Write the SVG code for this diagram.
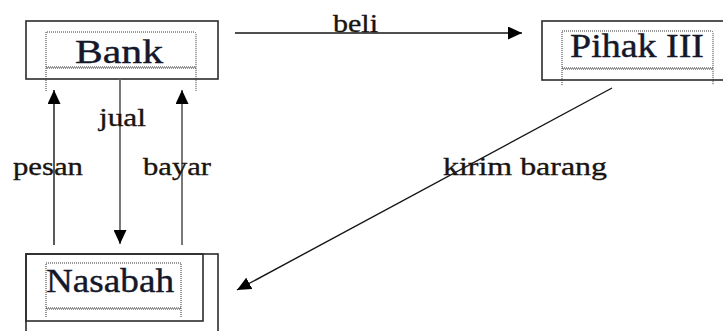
<svg xmlns="http://www.w3.org/2000/svg" width="723" height="331" viewBox="0 0 723 331">
  <style>
    .box { fill: none; stroke: #2b2b2b; stroke-width: 1.6; }
    .dot { fill: none; stroke: #333; stroke-width: 1; stroke-dasharray: 1 1; }
    .name { font-family: "Liberation Serif", "Times New Roman", serif; font-size: 34px; fill: #14182a; stroke: #14182a; stroke-width: 0.4; }
    .lbl { font-family: "Liberation Serif", "Times New Roman", serif; font-size: 26px; fill: #1a1410; stroke: #1a1410; stroke-width: 0.35; }
    .arrow { fill: none; stroke: #151515; stroke-width: 1.4; marker-end: url(#head); }
    .arrow.soft { stroke: #6a6a6a; stroke-width: 1.8; }
  </style>
  <defs>
    <marker id="head" markerUnits="userSpaceOnUse" viewBox="0 0 14 13" refX="14" refY="6.5" markerWidth="14" markerHeight="13" orient="auto">
      <path d="M0,0 L14,6.5 L0,13 z" fill="#000"/>
    </marker>
  </defs>
  <rect width="723" height="331" fill="#fff"/>

  <!-- Bank -->
  <g id="bank">
    <rect class="box" x="26" y="21" width="192" height="58"/>
    <path class="dot" d="M46,91 V32 H194 Q196,32 196,34 V91"/>
    <path class="dot" d="M46,67 H196"/>
    <path class="dot" d="M47,68 H196"/>
    <text class="name" x="75" y="63" textLength="88" lengthAdjust="spacingAndGlyphs">Bank</text>
  </g>

  <!-- Pihak III -->
  <g id="pihak3">
    <rect class="box" x="542" y="21" width="200" height="59"/>
    <path class="dot" d="M562,85 V31 H711 Q713,31 713,33 V85"/>
    <path class="dot" d="M562,68 H713"/>
    <path class="dot" d="M563,69 H713"/>
    <text class="name" x="570" y="57" textLength="134" lengthAdjust="spacingAndGlyphs">Pihak III</text>
  </g>

  <!-- Nasabah -->
  <g id="nasabah">
    <rect class="box" x="26" y="254" width="192" height="100"/>
    <rect class="box" x="26" y="254" width="177" height="67"/>
    <path class="dot" d="M46,317 V263 H181 V317"/>
    <path class="dot" d="M46,308 H181"/>
    <path class="dot" d="M47,309 H181"/>
    <text class="name" x="46" y="292" textLength="128" lengthAdjust="spacingAndGlyphs">Nasabah</text>
  </g>

  <!-- Connectors -->
  <g id="connectors">
    <line class="arrow" x1="235" y1="33" x2="522" y2="33"/>
    <line class="arrow" x1="54" y1="245" x2="54" y2="90"/>
    <line class="arrow soft" x1="120" y1="79" x2="120" y2="244"/>
    <line class="arrow soft" x1="182" y1="245" x2="182" y2="90"/>
    <line class="arrow" x1="612" y1="88" x2="237" y2="290"/>
    <text class="lbl" x="333" y="32" textLength="45" lengthAdjust="spacingAndGlyphs">beli</text>
    <text class="lbl" x="99" y="126" textLength="47" lengthAdjust="spacingAndGlyphs">jual</text>
    <text class="lbl" x="13" y="175" textLength="70" lengthAdjust="spacingAndGlyphs">pesan</text>
    <text class="lbl" x="143" y="175" textLength="68" lengthAdjust="spacingAndGlyphs">bayar</text>
    <text class="lbl" x="443" y="175" textLength="164" lengthAdjust="spacingAndGlyphs">kirim  barang</text>
  </g>
</svg>
